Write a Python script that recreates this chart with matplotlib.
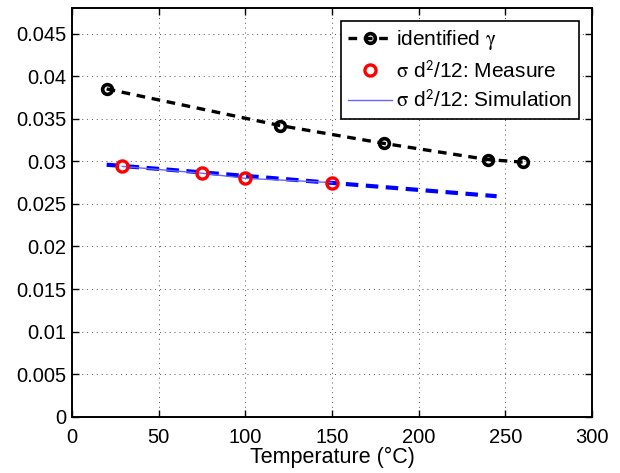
import numpy as np
import matplotlib
matplotlib.use("Agg")
import matplotlib.pyplot as plt

plt.rcParams["font.family"] = ["Liberation Sans", "DejaVu Sans"]
plt.rcParams["mathtext.fontset"] = "stix"

# identified gamma
t_gamma = [20, 120, 180, 240, 260]
gamma = [0.0385, 0.0342, 0.0321, 0.0302, 0.0299]
# sigma d^2/12 measured
t_meas = [29, 75, 100, 150]
meas = [0.0294, 0.0286, 0.0280, 0.0275]
# simulation / fit
t_sim = [20, 245]
sim = [0.0296, 0.0259]

fig = plt.figure(figsize=(6.2, 4.73), dpi=100)
ax = fig.add_axes([0.1161, 0.119, 0.8387, 0.864])

ax.plot(t_sim, sim, "--", color="#0000ff", lw=3, dashes=(3, 1.8), zorder=2)
ax.plot(t_gamma, gamma, "--o", color="black", lw=2.4, dashes=(2.6, 2.0),
        mfc="none", mec="black", mew=2.6, ms=7, label=r"identified $\mathrm{\gamma}$", zorder=3)
ax.plot(t_meas, meas, "o", mfc="none", mec="#ff0000", mew=2.4, ms=8,
        label=r"$\mathrm{\sigma}$ d$^{\mathsf{2}}$/12: Measure", zorder=4)
ax.plot(t_meas, meas, "-", color="#6666ff", lw=1, zorder=3.5,
        label=r"$\mathrm{\sigma}$ d$^{\mathsf{2}}$/12: Simulation")

ax.set_xlim(0, 300)
ax.set_ylim(0, 0.048)
ax.set_xticks(np.arange(0, 301, 50))
ax.set_yticks(np.arange(0, 0.0451, 0.005))
ax.set_yticklabels(["0", "0.005", "0.01", "0.015", "0.02", "0.025", "0.03",
                    "0.035", "0.04", "0.045"])
ax.grid(True, linestyle=(0, (1, 4)), color="#555555", lw=0.7)
ax.tick_params(direction="in", length=5, width=1, top=True, right=True,
               labelsize=14.5)
ax.tick_params(axis="x", pad=8)
ax.tick_params(axis="y", pad=4)
for s in ax.spines.values():
    s.set_linewidth(1.4)
ax.set_xlabel("Temperature (°C)", fontsize=15.5, labelpad=0)

leg = ax.legend(loc="upper right", fontsize=15, frameon=True, fancybox=False,
                edgecolor="black", framealpha=1, handlelength=2.1,
                handletextpad=0.2, borderpad=0.35, labelspacing=0.4,
                borderaxespad=0.6)
leg.get_frame().set_linewidth(1.2)

fig.savefig("out.png", dpi=100)
